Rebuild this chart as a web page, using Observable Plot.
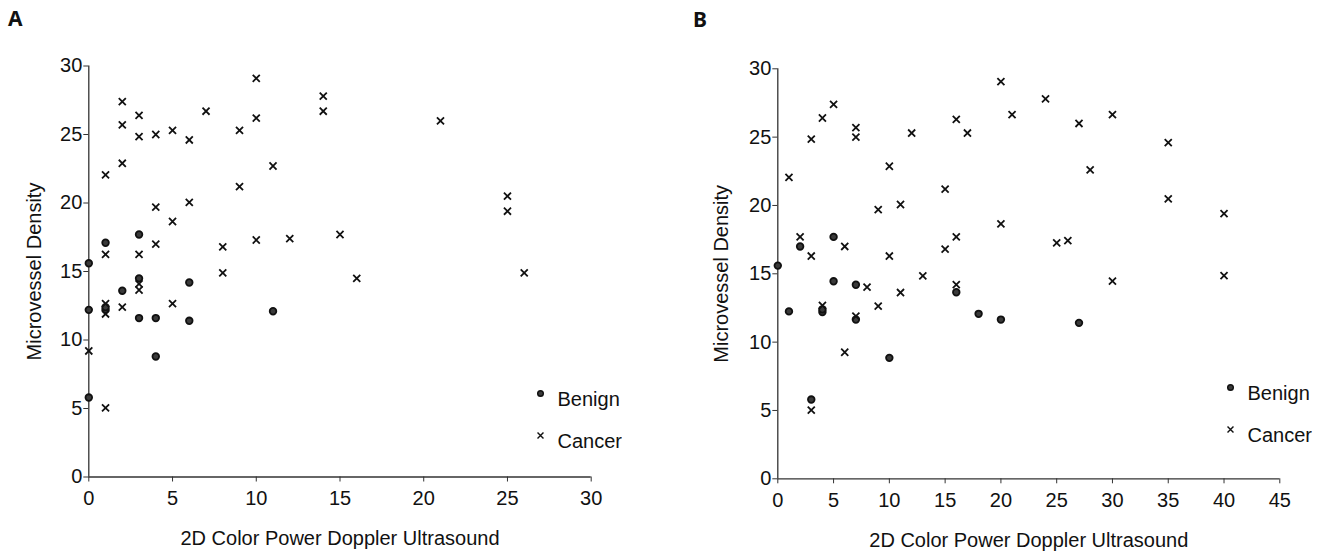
<!DOCTYPE html>
<html><head><meta charset="utf-8">
<script src="https://cdn.jsdelivr.net/npm/d3@7"></script>
<script src="https://cdn.jsdelivr.net/npm/@observablehq/plot@0.6"></script>
<style>
html,body{margin:0;padding:0;background:#fff;}
#wrap{position:relative;width:1324px;height:558px;overflow:hidden;font-family:"Liberation Sans",Arial,sans-serif;}
.panel{position:absolute;top:0;}
.tag{position:absolute;font-family:"Noto Sans",sans-serif;font-weight:700;font-size:21px;line-height:1;color:#111;}
.leg{position:absolute;}
.leg [class$="-swatch"]{padding-bottom:19px !important;margin:0 !important;}
.leg svg{position:relative;top:-6px;}
</style></head><body><div id="wrap"></div>
<script>
const groups = ["Benign", "Cancer"];
const xTitle = "2D Color Power Doppler Ultrasound";
const yTitle = "Microvessel Density";
const xTicksA = [0, 5, 10, 15, 20, 25, 30];
const xTicksB = [0, 5, 10, 15, 20, 25, 30, 35, 40, 45];
const yTicks = [0, 5, 10, 15, 20, 25, 30];

// Panel A: [x, y]
const benignA = [[0,15.6],[0,12.2],[0,5.8],[1,17.1],[1,12.2],[1,12.4],[2,13.6],[3,17.7],[3,14.5],[3,11.6],[4,11.6],[4,8.8],[6,14.2],[6,11.4],[11,12.1]];
const cancerA = [[0,9.2],[1,22.05],[1,16.25],[1,12.65],[1,11.9],[1,5.05],[2,27.4],[2,25.7],[2,22.9],[2,12.4],[3,26.4],[3,24.85],[3,16.25],[3,14.1],[3,13.65],[4,25.0],[4,19.7],[4,17.0],[5,25.3],[5,18.65],[5,12.65],[6,24.6],[6,20.05],[7,26.7],[8,16.8],[8,14.9],[9,25.3],[9,21.2],[10,29.1],[10,26.2],[10,17.3],[11,22.7],[12,17.4],[14,27.8],[14,26.7],[15,17.7],[16,14.5],[21,26.0],[25,20.5],[25,19.4],[26,14.9]];

// Panel B: [x, y]
const benignB = [[0,15.6],[1,12.25],[2,17.0],[3,5.8],[4,12.2],[4,12.4],[5,17.7],[5,14.45],[7,14.2],[7,11.65],[10,8.85],[16,13.65],[18,12.07],[20,11.65],[27,11.41]];
const cancerB = [[1,22.05],[2,17.7],[3,24.85],[3,16.3],[3,5.02],[4,26.4],[4,12.68],[5,27.4],[6,17.0],[6,9.26],[7,25.7],[7,25.0],[7,11.9],[8,14.02],[9,19.7],[9,12.63],[10,22.87],[10,16.3],[11,20.07],[11,13.63],[12,25.3],[13,14.85],[15,21.2],[15,16.8],[16,26.3],[16,17.7],[16,14.21],[17,25.3],[20,29.06],[20,18.65],[21,26.65],[24,27.8],[25,17.26],[26,17.43],[27,26.0],[28,22.6],[30,26.65],[30,14.46],[35,24.6],[35,20.48],[40,19.4],[40,14.87]];

const rows = (b, c) => [
  ...b.map(([x, y]) => ({x, y, group: groups[0]})),
  ...c.map(([x, y]) => ({x, y, group: groups[1]}))
];

const FONT = "'Liberation Sans', Arial, sans-serif";
const symbolScale = {domain: groups, range: ["circle", "times"]};

function panel(data, xTicks, opts) {
  return Plot.plot({
    width: opts.width, height: 558,
    marginLeft: opts.ml, marginRight: opts.mr, marginTop: opts.mt, marginBottom: opts.mb,
    x: {domain: [0, xTicks[xTicks.length - 1]]},
    y: {domain: [0, yTicks[yTicks.length - 1]]},
    symbol: symbolScale,
    style: {fontFamily: FONT, fontSize: "20px", color: "#111", background: "transparent", overflow: "visible"},
    marks: [
      Plot.ruleY([0], {stroke: "#333", strokeWidth: 1.3}),
      Plot.ruleX([0], {stroke: "#333", strokeWidth: 1.3}),
      Plot.axisX({ticks: xTicks, tickSize: 5, tickPadding: 9, fontSize: 20, stroke: "#333",
        label: xTitle, labelAnchor: "center", labelOffset: opts.xlo, labelArrow: "none"}),
      Plot.axisY({ticks: yTicks, tickSize: 5, tickPadding: 1.5, fontSize: 20, stroke: "#333",
        label: yTitle, labelAnchor: "center", labelOffset: opts.ylo, labelArrow: "none"}),
      Plot.dot(data, {x: "x", y: "y", symbol: "group", r: 3.3, fill: "#3a3a3a", stroke: "#111", strokeWidth: 1.8})
    ]
  });
}

const wrap = document.getElementById("wrap");

function place(el, left, top, cls) {
  el.classList.add(cls);
  el.style.position = "absolute";
  el.style.left = left + "px";
  el.style.top = top + "px";
  wrap.appendChild(el);
  return el;
}

const pA = panel(rows(benignA, cancerA), xTicksA, {width: 641, ml: 88.3, mr: 50.3, mt: 65.5, mb: 81.5, xlo: 68, ylo: 62});
place(pA, 0, 0, "panel");
const pB = panel(rows(benignB, cancerB), xTicksB, {width: 634, ml: 87.3, mr: 44.7, mt: 68.3, mb: 79.7, xlo: 68, ylo: 64});
place(pB, 690, 0, "panel");

function legend() {
  return Plot.legend({
    symbol: symbolScale,
    columns: 1,
    fill: "#3a3a3a", stroke: "#111", strokeWidth: 1.5, r: 3,
    style: {fontFamily: FONT, fontSize: "20px", color: "#111", background: "transparent"}
  });
}
place(legend(), 532.5, 387.8, "leg");
place(legend(), 1222.5, 381.8, "leg");

const tA = document.createElement("div"); tA.textContent = "A";
place(tA, 8, 8, "tag");
const tB = document.createElement("div"); tB.textContent = "B";
place(tB, 693, 9, "tag");
</script>
</body></html>
